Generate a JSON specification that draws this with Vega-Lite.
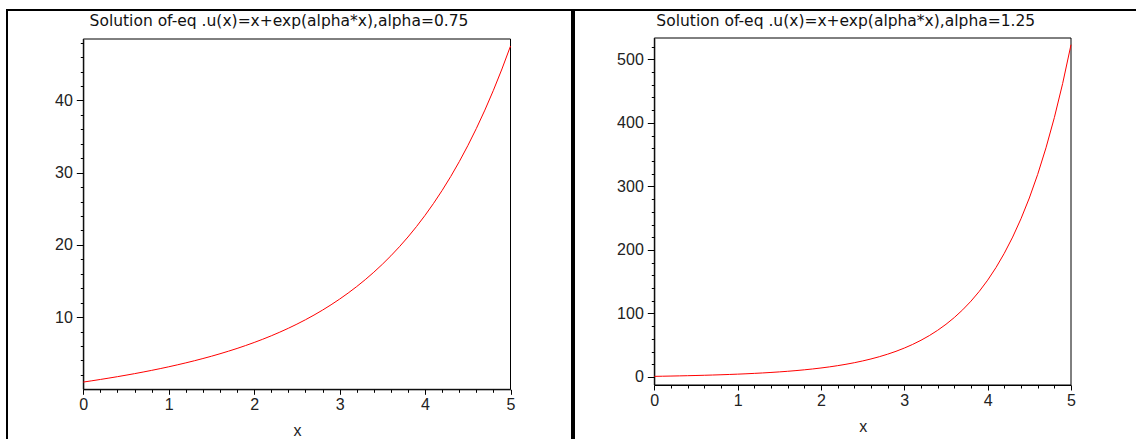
{
  "$schema": "https://vega.github.io/schema/vega-lite/v6.json",
  "padding": {"left": 6, "top": 9, "right": 0, "bottom": 0},
  "spacing": 0,
  "config": {
    "view": {"stroke": "#000000", "strokeWidth": 2},
    "font": "Liberation Sans",
    "axis": {"domainColor": "#000000", "domainWidth": 1, "tickColor": "#000000", "tickWidth": 1, "labelColor": "#222222", "labelFont": "Liberation Sans", "labelFontSize": 16, "titleFont": "Liberation Sans", "titleFontSize": 16, "titleFontWeight": "normal", "titleColor": "#222222", "grid": false, "labelOverlap": false, "labelFlush": false}
  },
  "datasets": {
    "a075": [
      {"x": 0, "u": 1}, {"x": 0.1, "u": 1.178}, {"x": 0.2, "u": 1.362}, {"x": 0.3, "u": 1.552}, {"x": 0.4, "u": 1.75}, {"x": 0.5, "u": 1.955}, {"x": 0.6, "u": 2.168}, {"x": 0.7, "u": 2.39}, {"x": 0.8, "u": 2.622}, {"x": 0.9, "u": 2.864},
      {"x": 1, "u": 3.117}, {"x": 1.1, "u": 3.382}, {"x": 1.2, "u": 3.66}, {"x": 1.3, "u": 3.951}, {"x": 1.4, "u": 4.258}, {"x": 1.5, "u": 4.58}, {"x": 1.6, "u": 4.92}, {"x": 1.7, "u": 5.279}, {"x": 1.8, "u": 5.657}, {"x": 1.9, "u": 6.058},
      {"x": 2, "u": 6.482}, {"x": 2.1, "u": 6.931}, {"x": 2.2, "u": 7.407}, {"x": 2.3, "u": 7.913}, {"x": 2.4, "u": 8.45}, {"x": 2.5, "u": 9.021}, {"x": 2.6, "u": 9.629}, {"x": 2.7, "u": 10.276}, {"x": 2.8, "u": 10.966}, {"x": 2.9, "u": 11.702},
      {"x": 3, "u": 12.488}, {"x": 3.1, "u": 13.327}, {"x": 3.2, "u": 14.223}, {"x": 3.3, "u": 15.182}, {"x": 3.4, "u": 16.207}, {"x": 3.5, "u": 17.305}, {"x": 3.6, "u": 18.48}, {"x": 3.7, "u": 19.739}, {"x": 3.8, "u": 21.088}, {"x": 3.9, "u": 22.534},
      {"x": 4, "u": 24.086}, {"x": 4.1, "u": 25.75}, {"x": 4.2, "u": 27.536}, {"x": 4.3, "u": 29.454}, {"x": 4.4, "u": 31.513}, {"x": 4.5, "u": 33.724}, {"x": 4.6, "u": 36.1}, {"x": 4.7, "u": 38.654}, {"x": 4.8, "u": 41.398}, {"x": 4.9, "u": 44.349},
      {"x": 5, "u": 47.521}
    ],
    "a125": [
      {"x": 0, "u": 1}, {"x": 0.1, "u": 1.233}, {"x": 0.2, "u": 1.484}, {"x": 0.3, "u": 1.755}, {"x": 0.4, "u": 2.049}, {"x": 0.5, "u": 2.368}, {"x": 0.6, "u": 2.717}, {"x": 0.7, "u": 3.099}, {"x": 0.8, "u": 3.518}, {"x": 0.9, "u": 3.98},
      {"x": 1, "u": 4.49}, {"x": 1.1, "u": 5.055}, {"x": 1.2, "u": 5.682}, {"x": 1.3, "u": 6.378}, {"x": 1.4, "u": 7.155}, {"x": 1.5, "u": 8.021}, {"x": 1.6, "u": 8.989}, {"x": 1.7, "u": 10.073}, {"x": 1.8, "u": 11.288}, {"x": 1.9, "u": 12.651},
      {"x": 2, "u": 14.182}, {"x": 2.1, "u": 15.905}, {"x": 2.2, "u": 17.843}, {"x": 2.3, "u": 20.025}, {"x": 2.4, "u": 22.486}, {"x": 2.5, "u": 25.26}, {"x": 2.6, "u": 28.39}, {"x": 2.7, "u": 31.924}, {"x": 2.8, "u": 35.915}, {"x": 2.9, "u": 40.425},
      {"x": 3, "u": 45.521}, {"x": 3.1, "u": 51.283}, {"x": 3.2, "u": 57.798}, {"x": 3.3, "u": 65.168}, {"x": 3.4, "u": 73.505}, {"x": 3.5, "u": 82.94}, {"x": 3.6, "u": 93.617}, {"x": 3.7, "u": 105.703}, {"x": 3.8, "u": 119.384}, {"x": 3.9, "u": 134.874},
      {"x": 4, "u": 152.413}, {"x": 4.1, "u": 172.274}, {"x": 4.2, "u": 194.766}, {"x": 4.3, "u": 220.24}, {"x": 4.4, "u": 249.092}, {"x": 4.5, "u": 281.772}, {"x": 4.6, "u": 318.791}, {"x": 4.7, "u": 360.725}, {"x": 4.8, "u": 408.229}, {"x": 4.9, "u": 462.045},
      {"x": 5, "u": 523.013}
    ]
  },
  "hconcat": [
    {
      "width": 565,
      "height": 432,
      "resolve": {"axis": {"x": "independent", "y": "independent"}},
      "layer": [
        {
          "data": {"values": [{}]},
          "mark": {"type": "rect", "fill": "#ffffff", "fillOpacity": 0, "stroke": "#000000", "strokeWidth": 1},
          "encoding": {
            "x": {
              "datum": 0, "type": "quantitative",
              "axis": {"orient": "bottom", "offset": -52.7, "domain": false, "labels": false, "tickSize": 3, "title": null,
                "values": [0.2, 0.4, 0.6, 0.8, 1.2, 1.4, 1.6, 1.8, 2.2, 2.4, 2.6, 2.8, 3.2, 3.4, 3.6, 3.8, 4.2, 4.4, 4.6, 4.8]}
            },
            "x2": {"datum": 5},
            "y": {
              "datum": 0, "type": "quantitative",
              "axis": {"orient": "left", "offset": -76.3, "domain": false, "labels": false, "tickSize": 3,
                "values": [2, 4, 6, 8, 12, 14, 16, 18, 22, 24, 26, 28, 32, 34, 36, 38, 42, 44, 46, 48],
                "title": "Solution of-eq .u(x)=x+exp(alpha*x),alpha=0.75",
                "titleAngle": 0, "titleAlign": "center", "titleBaseline": "alphabetic", "titleX": 195.2, "titleY": 15,
                "titleFont": "DejaVu Sans", "titleFontSize": 15.5, "titleColor": "#111111"}
            },
            "y2": {"datum": 48.5}
          }
        },
        {
          "data": {"name": "a075"},
          "mark": {"type": "line", "color": "#ff0000", "strokeWidth": 1},
          "encoding": {
            "x": {
              "field": "x", "type": "quantitative",
              "scale": {"domain": [0, 5], "range": [76.3, 503.5], "nice": false, "zero": false},
              "axis": {
                "orient": "bottom", "title": "x", "offset": -52.7, "titleY": 46.5, "titleBaseline": "alphabetic",
                "values": [0, 1, 2, 3, 4, 5], "format": "d", "tickSize": 5, "labelPadding": 2.5
              }
            },
            "y": {
              "field": "u", "type": "quantitative",
              "scale": {"domain": [0, 48.5], "range": [379.3, 29], "nice": false, "zero": false},
              "axis": {
                "orient": "left", "title": null, "offset": -76.3,
                "values": [10, 20, 30, 40], "format": "d", "tickSize": 7, "labelPadding": 4
              }
            }
          }
        }
      ]
    },
    {
      "width": 565,
      "height": 432,
      "resolve": {"axis": {"x": "independent", "y": "independent"}},
      "layer": [
        {
          "data": {"values": [{}]},
          "mark": {"type": "rect", "fill": "#ffffff", "fillOpacity": 0, "stroke": "#000000", "strokeWidth": 1},
          "encoding": {
            "x": {
              "datum": 0, "type": "quantitative",
              "axis": {"orient": "bottom", "offset": -57, "domain": false, "labels": false, "tickSize": 3, "title": null,
                "values": [0.2, 0.4, 0.6, 0.8, 1.2, 1.4, 1.6, 1.8, 2.2, 2.4, 2.6, 2.8, 3.2, 3.4, 3.6, 3.8, 4.2, 4.4, 4.6, 4.8]}
            },
            "x2": {"datum": 5},
            "y": {
              "datum": -12.6, "type": "quantitative",
              "axis": {"orient": "left", "offset": -80.3, "domain": false, "labels": false, "tickSize": 3,
                "values": [20, 40, 60, 80, 120, 140, 160, 180, 220, 240, 260, 280, 320, 340, 360, 380, 420, 440, 460, 480, 520],
                "title": "Solution of-eq .u(x)=x+exp(alpha*x),alpha=1.25",
                "titleAngle": 0, "titleAlign": "center", "titleBaseline": "alphabetic", "titleX": 191, "titleY": 15,
                "titleFont": "DejaVu Sans", "titleFontSize": 15.5, "titleColor": "#111111"}
            },
            "y2": {"datum": 533.6}
          }
        },
        {
          "data": {"name": "a125"},
          "mark": {"type": "line", "color": "#ff0000", "strokeWidth": 1},
          "encoding": {
            "x": {
              "field": "x", "type": "quantitative",
              "scale": {"domain": [0, 5], "range": [80.3, 497], "nice": false, "zero": false},
              "axis": {
                "orient": "bottom", "title": "x", "offset": -57, "titleY": 46.5, "titleBaseline": "alphabetic",
                "values": [0, 1, 2, 3, 4, 5], "format": "d", "tickSize": 5, "labelPadding": 2.5
              }
            },
            "y": {
              "field": "u", "type": "quantitative",
              "scale": {"domain": [-12.6, 533.6], "range": [375, 28], "nice": false, "zero": false},
              "axis": {
                "orient": "left", "title": null, "offset": -80.3,
                "values": [0, 100, 200, 300, 400, 500], "format": "d", "tickSize": 7, "labelPadding": 4
              }
            }
          }
        }
      ]
    }
  ]
}
